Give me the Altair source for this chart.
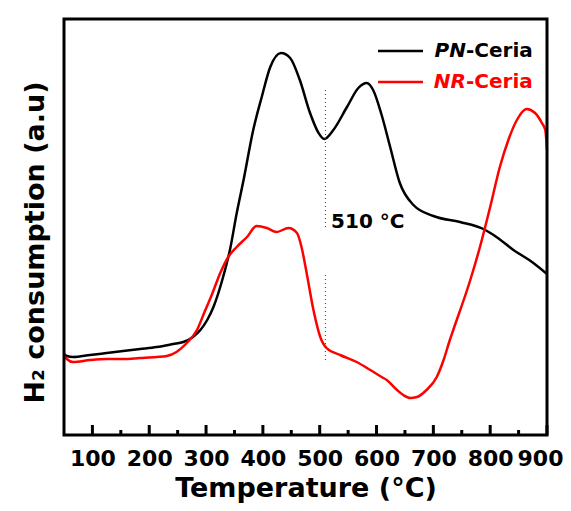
import altair as alt
import pandas as pd

# ---- data (temperature in degC, signal in arbitrary units) ----
pn_temp = [50, 55, 66, 96, 125, 154, 184, 213, 242, 260, 277, 290, 302, 313, 330, 342, 354,
           366, 383, 398, 413, 432, 448, 465, 483, 498, 508, 524, 548, 568, 583, 594, 609,
           624, 641, 665, 700, 747, 788, 806, 841, 876, 900]
pn_signal = [81, 79, 78, 80, 82, 84, 86, 88, 91, 93, 98, 105, 115, 128, 158, 185, 222,
             255, 305, 338, 368, 382, 377, 355, 322, 302, 296, 305, 328, 347, 352, 345, 320,
             288, 252, 230, 219, 213, 206, 200, 185, 172, 161]

nr_temp = [50, 55, 66, 96, 125, 154, 184, 213, 231, 248, 266, 284, 298, 310, 325, 339, 354,
           372, 389, 407, 424, 445, 460, 468, 477, 489, 501, 512, 536, 565, 589, 609, 618,
           636, 647, 659, 671, 688, 706, 718, 729, 735, 765, 782, 800, 817, 832, 847, 864,
           879, 891, 897, 900]
nr_signal = [80, 76, 73, 75, 76, 76, 77, 78, 79, 83, 92, 105, 124, 140, 162, 178, 188,
             198, 209, 207, 203, 207, 202, 188, 162, 125, 98, 87, 80, 73, 65, 58, 55,
             45, 40, 37, 38, 45, 58, 75, 95, 105, 155, 188, 228, 268, 295, 315, 326,
             322, 312, 305, 285]

major_ticks = [100, 200, 300, 400, 500, 600, 700, 800, 900]
minor_ticks = [150, 250, 350, 450, 550, 650, 750, 850]

marker_temp = 510
marker_label = "510 °C"
series_names = ["PN-Ceria", "NR-Ceria"]
series_italic = ["PN", "NR"]
series_colors = ["#000000", "#ff0000"]

FONT = "DejaVu Sans"
W, H = 483, 416

pn_df = pd.DataFrame({"temp": pn_temp, "signal": pn_signal})
nr_df = pd.DataFrame({"temp": nr_temp, "signal": nr_signal})
major_df = pd.DataFrame({"temp": major_ticks})
minor_df = pd.DataFrame({"temp": minor_ticks})
marker_df = pd.DataFrame({"temp": [marker_temp, marker_temp], "y1": [345, 160], "y2": [205, 72]})
annot_df = pd.DataFrame({"temp": [520], "signal": [207], "label": [marker_label]})

x_scale = alt.Scale(domain=[50, 900], nice=False, zero=False)
y_scale = alt.Scale(domain=[0, 416], nice=False, zero=False)

x_axis = alt.Axis(
    values=major_ticks, format="d", title="Temperature (°C)",
    ticks=False, tickSize=0, domain=False, grid=False,
    labelFont=FONT, labelFontSize=22, labelFontWeight="bold", labelColor="black",
    labelPadding=30, labelBaseline="alphabetic", labelOverlap=False,
    labelFlush=True, labelFlushOffset=16,
    titleFont=FONT, titleFontSize=27, titleFontWeight="bold", titleColor="black",
    titleY=61, titleBaseline="alphabetic",
)
y_axis = alt.Axis(
    title="H₂ consumption (a.u)", labels=False, ticks=False, domain=False, grid=False,
    titleFont=FONT, titleFontSize=27, titleFontWeight="bold", titleColor="black",
    titleAngle=270, titleAlign="center", titleBaseline="alphabetic",
    titleX=-21, titleY=223,
)

pn_line = alt.Chart(pn_df).mark_line(color=series_colors[0], strokeWidth=2.5, interpolate="monotone").encode(
    x=alt.X("temp:Q", scale=x_scale, axis=x_axis),
    y=alt.Y("signal:Q", scale=y_scale, axis=y_axis),
)
nr_line = alt.Chart(nr_df).mark_line(color=series_colors[1], strokeWidth=2.5, interpolate="monotone").encode(
    x=alt.X("temp:Q", scale=x_scale),
    y=alt.Y("signal:Q", scale=y_scale),
)

major = alt.Chart(major_df).mark_rule(color="black", strokeWidth=3).encode(
    x=alt.X("temp:Q", scale=x_scale), y=alt.value(H), y2=alt.value(H - 10)
)
minor = alt.Chart(minor_df).mark_rule(color="black", strokeWidth=3).encode(
    x=alt.X("temp:Q", scale=x_scale), y=alt.value(H), y2=alt.value(H - 5)
)

marker = alt.Chart(marker_df).mark_rule(color="#333333", strokeWidth=1, strokeDash=[1, 3]).encode(
    x=alt.X("temp:Q", scale=x_scale),
    y=alt.Y("y1:Q", scale=y_scale), y2="y2:Q",
)
annot = alt.Chart(annot_df).mark_text(
    align="left", baseline="alphabetic", font=FONT, fontSize=20, fontWeight="bold", color="black"
).encode(
    x=alt.X("temp:Q", scale=x_scale), y=alt.Y("signal:Q", scale=y_scale), text="label:N"
)

frame = alt.Chart(pd.DataFrame({"k": [0]})).mark_rect(
    fillOpacity=0, stroke="black", strokeWidth=3
).encode(x=alt.value(0), x2=alt.value(W), y=alt.value(0), y2=alt.value(H))

legend_layers = []
for i, (name, ital, col) in enumerate(zip(series_names, series_italic, series_colors)):
    ly = 32 + i * 31
    ty = 38 + i * 31
    legend_layers.append(
        alt.Chart(pd.DataFrame({"k": [0]})).mark_rule(color=col, strokeWidth=2.5).encode(
            x=alt.value(314), x2=alt.value(359), y=alt.value(ly)
        )
    )
    legend_layers.append(
        alt.Chart(pd.DataFrame({"t": [ital]})).mark_text(
            align="right", baseline="alphabetic", font=FONT, fontSize=20, fontWeight="bold",
            fontStyle="italic", color=col
        ).encode(x=alt.value(402), y=alt.value(ty), text="t:N")
    )
    legend_layers.append(
        alt.Chart(pd.DataFrame({"t": [name[len(ital):]]})).mark_text(
            align="left", baseline="alphabetic", font=FONT, fontSize=20, fontWeight="bold", color=col
        ).encode(x=alt.value(402), y=alt.value(ty), text="t:N")
    )

chart = alt.layer(pn_line, nr_line, major, minor, marker, annot, frame, *legend_layers).properties(
    width=W, height=H,
    padding={"left": 56, "top": 11, "right": 16, "bottom": 68},
    autosize=alt.AutoSizeParams(type="none"),
).configure_view(strokeWidth=0).configure(background="white")

chart.save("out.html", embed_options={"renderer": "svg", "actions": False})
